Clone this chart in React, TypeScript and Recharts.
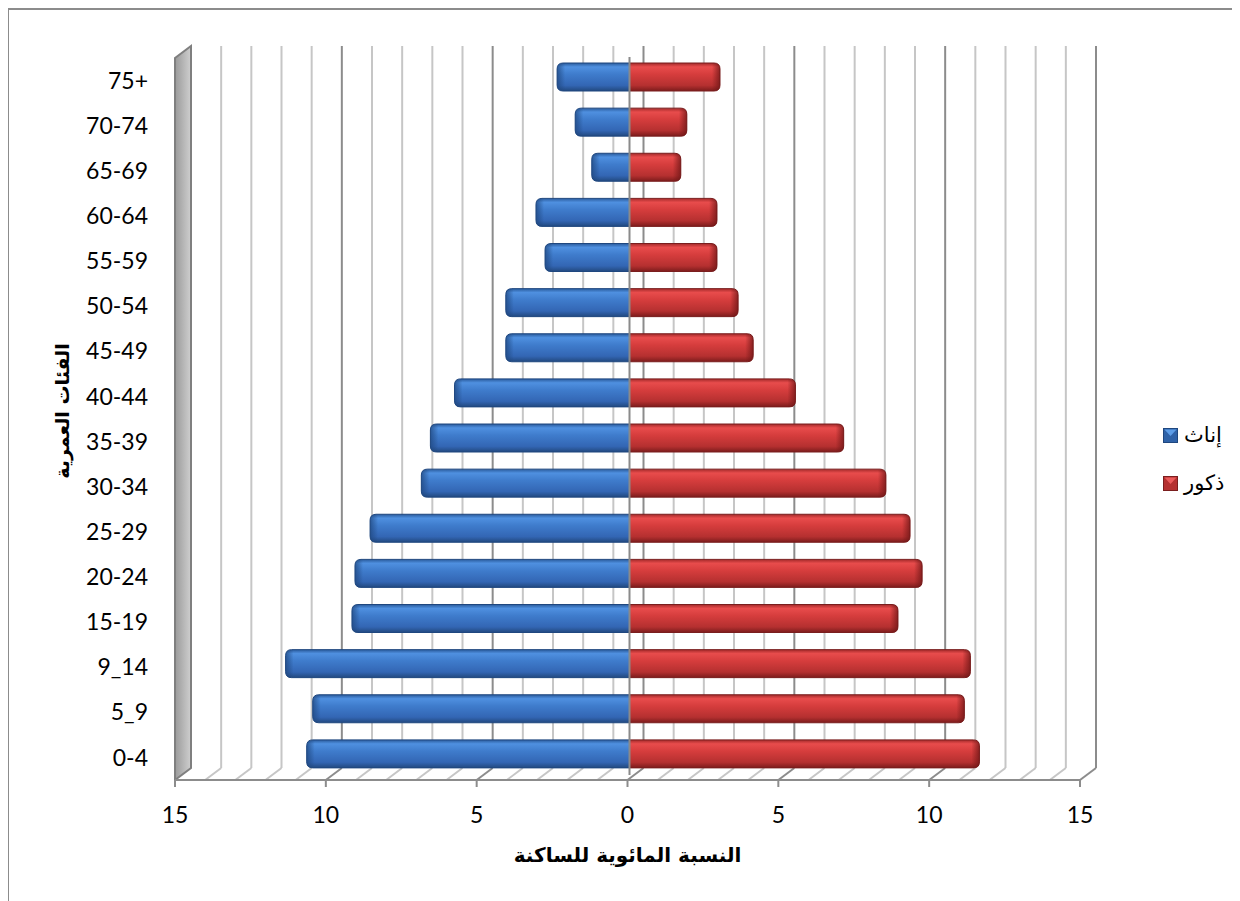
import React from 'react';
import { BarChart, Bar, XAxis, YAxis, ReferenceLine } from 'recharts';

// age groups, bottom to top
const AGE_GROUPS = ['0-4', '5_9', '9_14', '15-19', '20-24', '25-29', '30-34', '35-39', '40-44', '45-49', '50-54', '55-59', '60-64', '65-69', '70-74', '75+'];
// إناث (drawn to the left)
const FEMALE = [10.7, 10.5, 11.4, 9.2, 9.1, 8.6, 6.9, 6.6, 5.8, 4.1, 4.1, 2.8, 3.1, 1.25, 1.8, 2.4];
// ذكور (drawn to the right)
const MALE = [11.6, 11.1, 11.3, 8.9, 9.7, 9.3, 8.5, 7.1, 5.5, 4.1, 3.6, 2.9, 2.9, 1.7, 1.9, 3.0];

const X_TICKS = [-15, -10, -5, 0, 5, 10, 15];
const GRID_VALUES = [-15, -14, -13, -12, -11, -10, -9, -8, -7, -6, -5, -4, -3, -2, -1, 0, 1, 2, 3, 4, 5, 6, 7, 8, 9, 10, 11, 12, 13, 14, 15];

const data = AGE_GROUPS.map((age, i) => ({ age, female: -FEMALE[i], male: MALE[i] }));

// fake 3d depth of the back wall
const DX = 16;
const DY = -12;
const BAR_SHIFT_X = 2;
const BAR_SHIFT_Y = -4;

const TICK_FONT = 'Lato, "Open Sans", sans-serif';
const AR_FONT = '"DejaVu Sans", sans-serif';

const gridShape = (v: number) => (props: any) => {
  const { x1, y1, y2 } = props;
  if (x1 == null) return <g />;
  const top = Math.min(y1, y2);
  const bottom = Math.max(y1, y2);
  if (v === -15) {
    return (
      <g>
        <polygon
          points={`${x1},${top} ${x1 + DX},${top + DY} ${x1 + DX},${bottom + DY} ${x1},${bottom}`}
          fill="url(#wallGrad)"
          stroke="#7f7f7f"
          strokeWidth={2}
        />
      </g>
    );
  }
  const major = v % 5 === 0;
  const stroke = major ? '#8c8c8c' : '#c6c6c6';
  return (
    <g>
      <line x1={x1 + DX} y1={top + DY} x2={x1 + DX} y2={bottom + DY} stroke={stroke} strokeWidth={2} />
      <line x1={x1} y1={bottom} x2={x1 + DX} y2={bottom + DY} stroke={stroke} strokeWidth={2} />
    </g>
  );
};

const zeroShape = (props: any) => {
  const { x1, y1, y2 } = props;
  if (x1 == null) return <g />;
  const top = Math.min(y1, y2);
  const bottom = Math.max(y1, y2);
  return <line x1={x1 + BAR_SHIFT_X} y1={top - 1} x2={x1 + BAR_SHIFT_X} y2={bottom - 5} stroke="#8a8a8a" strokeWidth={2} />;
};

const makeBarShape = (side: 'left' | 'right', grad: string, capGrad: string, edge: string) => (props: any) => {
  const { x, y, width, height } = props;
  if (!width || !height) return <g />;
  const x0 = Math.min(x, x + width) + BAR_SHIFT_X;
  const w = Math.abs(width);
  const y0 = y + BAR_SHIFT_Y;
  const h = height;
  const r = 6;
  const cw = Math.min(8, w);
  let d: string;
  let cap: string;
  if (side === 'right') {
    const xe = x0 + w;
    d = `M${x0},${y0} H${xe - r} Q${xe},${y0} ${xe},${y0 + r} V${y0 + h - r} Q${xe},${y0 + h} ${xe - r},${y0 + h} H${x0} Z`;
    cap = `M${xe - cw},${y0} H${xe - r} Q${xe},${y0} ${xe},${y0 + r} V${y0 + h - r} Q${xe},${y0 + h} ${xe - r},${y0 + h} H${xe - cw} Z`;
  } else {
    const xe = x0 + w;
    d = `M${xe},${y0} H${x0 + r} Q${x0},${y0} ${x0},${y0 + r} V${y0 + h - r} Q${x0},${y0 + h} ${x0 + r},${y0 + h} H${xe} Z`;
    cap = `M${x0 + cw},${y0} H${x0 + r} Q${x0},${y0} ${x0},${y0 + r} V${y0 + h - r} Q${x0},${y0 + h} ${x0 + r},${y0 + h} H${x0 + cw} Z`;
  }
  return (
    <g>
      <path d={d} fill={`url(#${grad})`} stroke={edge} strokeWidth={1} />
      <path d={cap} fill={`url(#${capGrad})`} />
    </g>
  );
};

const femaleShape = makeBarShape('left', 'blueGrad', 'blueCapL', '#1f477f');
const maleShape = makeBarShape('right', 'redGrad', 'redCapR', '#7a1e1e');

const LegendMarker = ({ base, light, edge }: { base: string; light: string; edge: string }) => (
  <svg width={15} height={15} style={{ display: 'block' }}>
    <rect x={0.5} y={0.5} width={14} height={14} fill={base} stroke={edge} />
    <polygon points="1.5,1.5 13.5,1.5 7.5,8" fill={light} />
  </svg>
);

export default function App() {
  return (
    <div
      style={{
        position: 'relative',
        width: 1240,
        height: 900,
        marginLeft: -1,
        borderLeft: '2px solid #8c8c8c',
        borderTop: '2px solid #8c8c8c',
        background: '#fff',
      }}
    >
      <style>{'html, body { overflow: hidden; }'}</style>
      <BarChart
        width={1220}
        height={880}
        data={data}
        layout="vertical"
        stackOffset="sign"
        barSize={28}
        margin={{ top: 48, right: 149, bottom: 50, left: 0 }}
      >
        <defs>
          <linearGradient id="wallGrad" x1="0" y1="0" x2="1" y2="0">
            <stop offset="0%" stopColor="#9a9a9a" />
            <stop offset="100%" stopColor="#cfcfcf" />
          </linearGradient>
          <linearGradient id="blueGrad" x1="0" y1="0" x2="0" y2="1">
            <stop offset="0%" stopColor="#2a5b9c" />
            <stop offset="14%" stopColor="#4f90e0" />
            <stop offset="40%" stopColor="#3f7ccc" />
            <stop offset="80%" stopColor="#3366b4" />
            <stop offset="100%" stopColor="#22497f" />
          </linearGradient>
          <linearGradient id="redGrad" x1="0" y1="0" x2="0" y2="1">
            <stop offset="0%" stopColor="#a32a2a" />
            <stop offset="14%" stopColor="#e84c4c" />
            <stop offset="40%" stopColor="#d63d3d" />
            <stop offset="80%" stopColor="#b53030" />
            <stop offset="100%" stopColor="#7c1c1c" />
          </linearGradient>
          <linearGradient id="blueCapL" x1="1" y1="0" x2="0" y2="0">
            <stop offset="0%" stopColor="#1f477f" stopOpacity={0} />
            <stop offset="100%" stopColor="#1f477f" stopOpacity={0.75} />
          </linearGradient>
          <linearGradient id="redCapR" x1="0" y1="0" x2="1" y2="0">
            <stop offset="0%" stopColor="#6e1616" stopOpacity={0} />
            <stop offset="100%" stopColor="#6e1616" stopOpacity={0.75} />
          </linearGradient>
        </defs>

        {GRID_VALUES.map((v) => (
          <ReferenceLine key={`g${v}`} x={v} zIndex={-50} shape={gridShape(v)} ifOverflow="visible" />
        ))}

        <XAxis
          type="number"
          domain={[-15, 15]}
          ticks={X_TICKS}
          tickFormatter={(v: number) => String(Math.abs(v))}
          height={60}
          tickSize={7}
          tickMargin={20}
          axisLine={{ stroke: '#8c8c8c', strokeWidth: 2 }}
          tickLine={{ stroke: '#8c8c8c', strokeWidth: 2 }}
          tick={{ fill: '#000', fontSize: 23, fontFamily: TICK_FONT }}
          interval={0}
          label={{
            content: (p: any) => {
              const vb = p.viewBox || { x: 166, y: 770, width: 905, height: 60 };
              return (
                <text
                  x={vb.x + vb.width / 2}
                  y={vb.y + vb.height + 15}
                  textAnchor="middle"
                  dominantBaseline="central"
                  fontFamily={AR_FONT}
                  fontWeight="bold"
                  fontSize={20}
                  fill="#000"
                >
                  النسبة المائوية للساكنة
                </text>
              );
            },
          }}
        />
        <YAxis
          type="category"
          dataKey="age"
          reversed
          width={166}
          axisLine={false}
          tickLine={false}
          tickSize={0}
          tickMargin={27}
          interval={0}
          tick={{ fill: '#000', fontSize: 23, fontFamily: TICK_FONT }}
          label={{
            content: () => (
              <text
                x={53}
                y={401}
                transform="rotate(-90, 53, 401)"
                textAnchor="middle"
                dominantBaseline="central"
                fontFamily={AR_FONT}
                fontWeight="bold"
                fontSize={19}
                fill="#000"
              >
                الفئات العمرية
              </text>
            ),
          }}
        />

        <Bar dataKey="female" stackId="p" fill="#3f7ccc" shape={femaleShape} isAnimationActive={false} />
        <Bar dataKey="male" stackId="p" fill="#d63d3d" shape={maleShape} isAnimationActive={false} />

        <ReferenceLine x={0} zIndex={1000} shape={zeroShape} ifOverflow="visible" />
      </BarChart>

      <div style={{ position: 'absolute', left: 1154, top: 412, fontFamily: AR_FONT, fontSize: 21, color: '#000' }}>
        <div style={{ display: 'flex', alignItems: 'center', height: 26, gap: 6 }}>
          <LegendMarker base="#2f62a8" light="#5d9de8" edge="#1f477f" />
          <span>إناث</span>
        </div>
        <div style={{ display: 'flex', alignItems: 'center', height: 26, gap: 6, marginTop: 22 }}>
          <LegendMarker base="#b53030" light="#ec5b5b" edge="#7a1e1e" />
          <span>ذكور</span>
        </div>
      </div>
    </div>
  );
}
